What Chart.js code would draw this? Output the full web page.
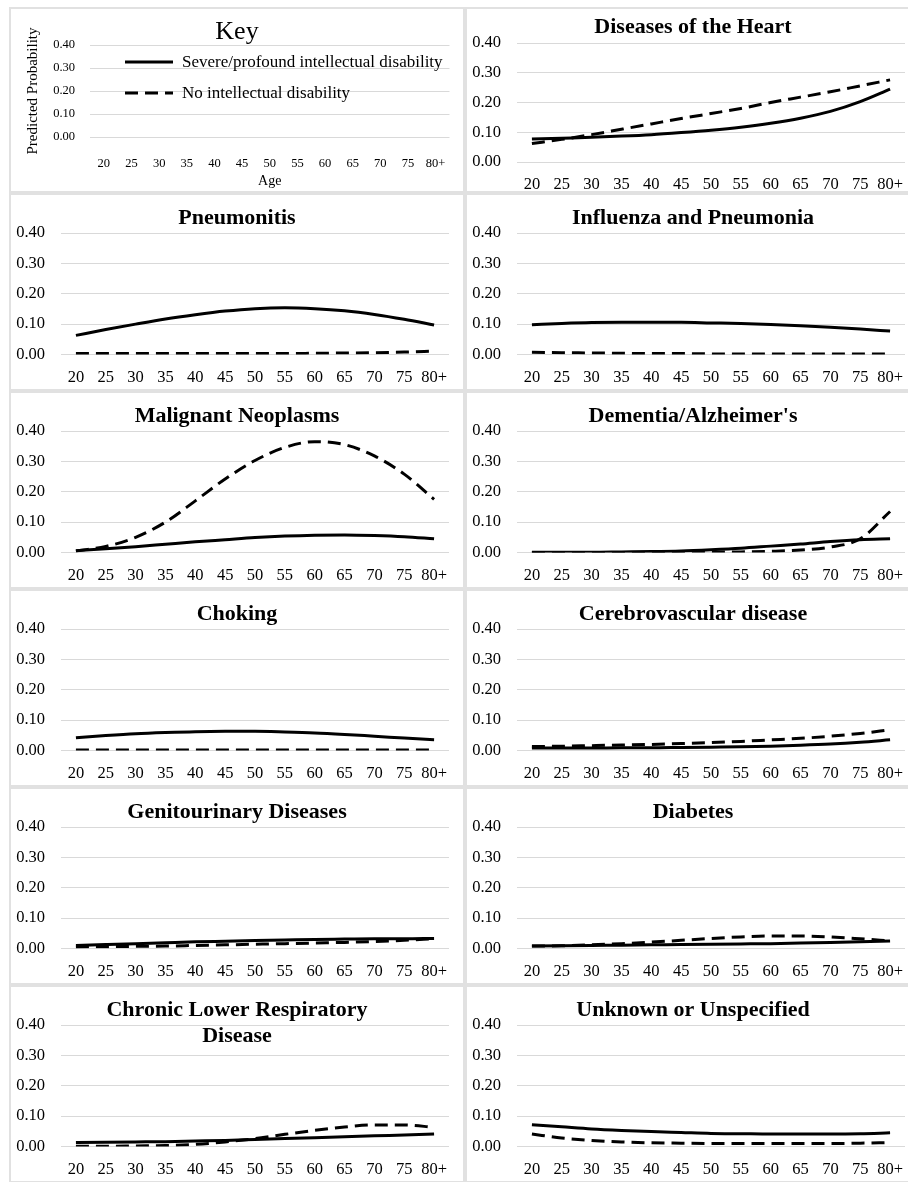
<!DOCTYPE html>
<html>
<head>
<meta charset="utf-8">
<script src="https://cdn.jsdelivr.net/npm/chart.js"></script>
<style>
  html, body { margin: 0; padding: 0; background: #fff; }
  body { width: 908px; height: 1182px; overflow: hidden; position: relative; font-family: "Liberation Serif", "Times New Roman", serif; }
  .panel { position: absolute; box-sizing: border-box; border: 2px solid #e1e1e1; }
  .panel canvas { position: absolute; left: -2px; top: -2px; }
  .key-legend { position: absolute; left: 114px; top: 42px; font-size: 17px; color: #000; }
  .key-legend div { display: flex; align-items: center; height: 22px; margin-bottom: 9px; white-space: nowrap; }
  .key-legend svg { margin-right: 9px; }
</style>
</head>
<body>

<script>
// ages on the x axis
const ages = ['20', '25', '30', '35', '40', '45', '50', '55', '60', '65', '70', '75', '80+'];
const yTicks = [0, 0.1, 0.2, 0.3, 0.4];
const seriesNames = ['Severe/profound intellectual disability', 'No intellectual disability'];

// predicted probabilities
const heartSevere = [0.077, 0.080, 0.083, 0.087, 0.092, 0.099, 0.107, 0.117, 0.130, 0.147, 0.170, 0.203, 0.245];
const heartNone = [0.062, 0.076, 0.092, 0.110, 0.128, 0.146, 0.163, 0.180, 0.200, 0.218, 0.236, 0.256, 0.276];

const pneumonitisSevere = [0.063, 0.082, 0.100, 0.117, 0.131, 0.143, 0.151, 0.154, 0.151, 0.144, 0.132, 0.116, 0.097];
const pneumonitisNone = [0.003, 0.003, 0.003, 0.003, 0.003, 0.003, 0.003, 0.003, 0.004, 0.005, 0.006, 0.008, 0.011];

const influenzaSevere = [0.098, 0.102, 0.105, 0.106, 0.106, 0.106, 0.104, 0.102, 0.099, 0.095, 0.090, 0.084, 0.077];
const influenzaNone = [0.007, 0.006, 0.005, 0.004, 0.003, 0.003, 0.002, 0.002, 0.002, 0.002, 0.002, 0.002, 0.002];

const neoplasmSevere = [0.006, 0.012, 0.019, 0.027, 0.035, 0.042, 0.049, 0.054, 0.057, 0.058, 0.056, 0.052, 0.045];
const neoplasmNone = [0.005, 0.020, 0.050, 0.100, 0.170, 0.242, 0.303, 0.346, 0.365, 0.355, 0.318, 0.258, 0.175];

const dementiaSevere = [0.001, 0.001, 0.001, 0.002, 0.003, 0.005, 0.009, 0.014, 0.021, 0.028, 0.036, 0.042, 0.045];
const dementiaNone = [0.000, 0.000, 0.000, 0.000, 0.000, 0.001, 0.001, 0.002, 0.004, 0.008, 0.018, 0.045, 0.135];

const chokingSevere = [0.042, 0.049, 0.055, 0.059, 0.062, 0.063, 0.063, 0.061, 0.058, 0.053, 0.047, 0.041, 0.035];
const chokingNone = [0.002, 0.002, 0.002, 0.002, 0.002, 0.002, 0.002, 0.002, 0.002, 0.002, 0.002, 0.002, 0.002];

const cerebroSevere = [0.008, 0.008, 0.008, 0.009, 0.009, 0.010, 0.011, 0.012, 0.014, 0.017, 0.021, 0.027, 0.035];
const cerebroNone = [0.013, 0.014, 0.016, 0.018, 0.020, 0.023, 0.026, 0.030, 0.035, 0.040, 0.047, 0.056, 0.068];

const genitoSevere = [0.010, 0.013, 0.016, 0.019, 0.022, 0.024, 0.026, 0.028, 0.030, 0.031, 0.032, 0.032, 0.033];
const genitoNone = [0.005, 0.006, 0.007, 0.008, 0.010, 0.012, 0.014, 0.016, 0.018, 0.020, 0.023, 0.027, 0.032];

const diabetesSevere = [0.008, 0.009, 0.010, 0.011, 0.012, 0.013, 0.014, 0.015, 0.016, 0.018, 0.020, 0.022, 0.025];
const diabetesNone = [0.008, 0.009, 0.012, 0.016, 0.021, 0.027, 0.033, 0.038, 0.041, 0.041, 0.038, 0.032, 0.025];

const respiratorySevere = [0.013, 0.014, 0.015, 0.016, 0.018, 0.020, 0.023, 0.026, 0.029, 0.032, 0.035, 0.038, 0.041];
const respiratoryNone = [0.001, 0.001, 0.002, 0.003, 0.007, 0.015, 0.026, 0.040, 0.053, 0.064, 0.071, 0.071, 0.063];

const unknownSevere = [0.072, 0.065, 0.058, 0.053, 0.049, 0.046, 0.043, 0.042, 0.041, 0.041, 0.041, 0.042, 0.045];
const unknownNone = [0.041, 0.028, 0.020, 0.015, 0.012, 0.011, 0.010, 0.010, 0.010, 0.010, 0.010, 0.011, 0.013];

const panels = [
    { title: 'Key', key: true },
    { title: 'Diseases of the Heart', severe: heartSevere, none: heartNone },
    { title: 'Pneumonitis', severe: pneumonitisSevere, none: pneumonitisNone },
    { title: 'Influenza and Pneumonia', severe: influenzaSevere, none: influenzaNone },
    { title: 'Malignant Neoplasms', severe: neoplasmSevere, none: neoplasmNone },
    { title: "Dementia/Alzheimer's", severe: dementiaSevere, none: dementiaNone },
    { title: 'Choking', severe: chokingSevere, none: chokingNone },
    { title: 'Cerebrovascular disease', severe: cerebroSevere, none: cerebroNone },
    { title: 'Genitourinary Diseases', severe: genitoSevere, none: genitoNone },
    { title: 'Diabetes', severe: diabetesSevere, none: diabetesNone },
    { title: ['Chronic Lower Respiratory', 'Disease'], severe: respiratorySevere, none: respiratoryNone },
    { title: 'Unknown or Unspecified', severe: unknownSevere, none: unknownNone }
];

// page layout
const FONT = '"Liberation Serif", "Times New Roman", serif';
const rowTops = [7, 193, 391, 589, 787, 985];
const rowHeights = [186, 198, 198, 198, 198, 198];
const colLefts = [9, 465];
const PANEL_W = 456;
const gridColor = '#d9d9d9';

function lineDatasets(severe, none) {
    return [
        { label: seriesNames[0], data: severe || [], borderColor: '#000', borderWidth: 3, pointRadius: 0, cubicInterpolationMode: 'monotone' },
        { label: seriesNames[1], data: none || [], borderColor: '#000', borderWidth: 3, borderDash: [13, 7], pointRadius: 0, cubicInterpolationMode: 'monotone' }
    ];
}

panels.forEach((p, i) => {
    const row = Math.floor(i / 2), col = i % 2;
    const H = rowHeights[row];

    const div = document.createElement('div');
    div.className = 'panel';
    div.style.left = colLefts[col] + 'px';
    div.style.top = rowTops[row] + 'px';
    div.style.width = PANEL_W + 'px';
    div.style.height = H + 'px';
    const canvas = document.createElement('canvas');
    canvas.width = PANEL_W;
    canvas.height = H;
    div.appendChild(canvas);
    document.body.appendChild(div);

    // plot area inside the panel
    let g;
    if (p.key) g = { left: 81, right: 441, top: 38, bottom: 130 };
    else if (row === 0) g = { left: 52, right: 440, top: 36, bottom: 155 };
    else g = { left: 52, right: 440, top: 40, bottom: 161.5 };

    const lines = Array.isArray(p.title) ? p.title : [p.title];
    const titleSize = p.key ? 26 : 22;
    const titleLH = 1.2;
    const titleCenter = p.key ? 25 : (row === 0 ? 20 : 25);
    const tTop = titleCenter - titleSize * titleLH / 2;
    const tBottom = g.top - tTop - lines.length * titleSize * titleLH;
    const tickSize = p.key ? 12.5 : 16.5;

    const chart = new Chart(canvas, {
        type: 'line',
        data: { labels: ages, datasets: lineDatasets(p.severe, p.none) },
        options: {
            responsive: false,
            animation: false,
            layout: { padding: 0 },
            plugins: {
                legend: { display: false },
                tooltip: { enabled: false },
                title: {
                    display: true,
                    text: p.title,
                    color: '#000',
                    font: { family: FONT, size: titleSize, weight: p.key ? 'normal' : 'bold', lineHeight: titleLH },
                    padding: { top: tTop, bottom: tBottom }
                }
            },
            scales: {
                x: {
                    offset: true,
                    grid: { display: false, drawTicks: false },
                    border: { display: false },
                    ticks: { color: '#000', font: { family: FONT, size: tickSize }, padding: p.key ? 19 : 13, maxRotation: 0, autoSkip: false },
                    title: { display: !!p.key, text: 'Age', color: '#000', font: { family: FONT, size: 14 }, padding: { top: 0, bottom: 3 } },
                    afterFit: s => { s.height = H - g.bottom; }
                },
                y: {
                    min: 0,
                    max: 0.4,
                    afterBuildTicks: s => { s.ticks = yTicks.map(v => ({ value: v })); },
                    grid: { color: gridColor, lineWidth: 1, drawTicks: false },
                    border: { display: false },
                    ticks: { color: '#000', font: { family: FONT, size: tickSize }, padding: p.key ? 15 : 16, callback: v => v.toFixed(2) },
                    title: { display: !!p.key, text: 'Predicted Probability', color: '#000', font: { family: FONT, size: 15 }, padding: { top: 15, bottom: 0 } },
                    afterFit: s => { s.width = g.left; }
                },
                // empty right-hand margin, keeps the title centred on the whole panel
                margin: {
                    position: 'right',
                    min: 0,
                    max: 1,
                    grid: { display: false, drawTicks: false },
                    border: { display: false },
                    ticks: { display: false },
                    afterFit: s => { s.width = PANEL_W - g.right; }
                }
            }
        }
    });

    // the key panel gets an html legend built from the chart's datasets
    if (p.key) {
        const legend = document.createElement('div');
        legend.className = 'key-legend';
        chart.data.datasets.forEach(ds => {
            const item = document.createElement('div');
            const dash = ds.borderDash ? ds.borderDash.join(' ') : 'none';
            item.innerHTML = '<svg width="48" height="6"><line x1="0" y1="3" x2="48" y2="3" stroke="#000" stroke-width="3" stroke-dasharray="' + dash + '"/></svg>';
            const label = document.createElement('span');
            label.textContent = ds.label;
            item.appendChild(label);
            legend.appendChild(item);
        });
        div.appendChild(legend);
    }
});
</script>
</body>
</html>
